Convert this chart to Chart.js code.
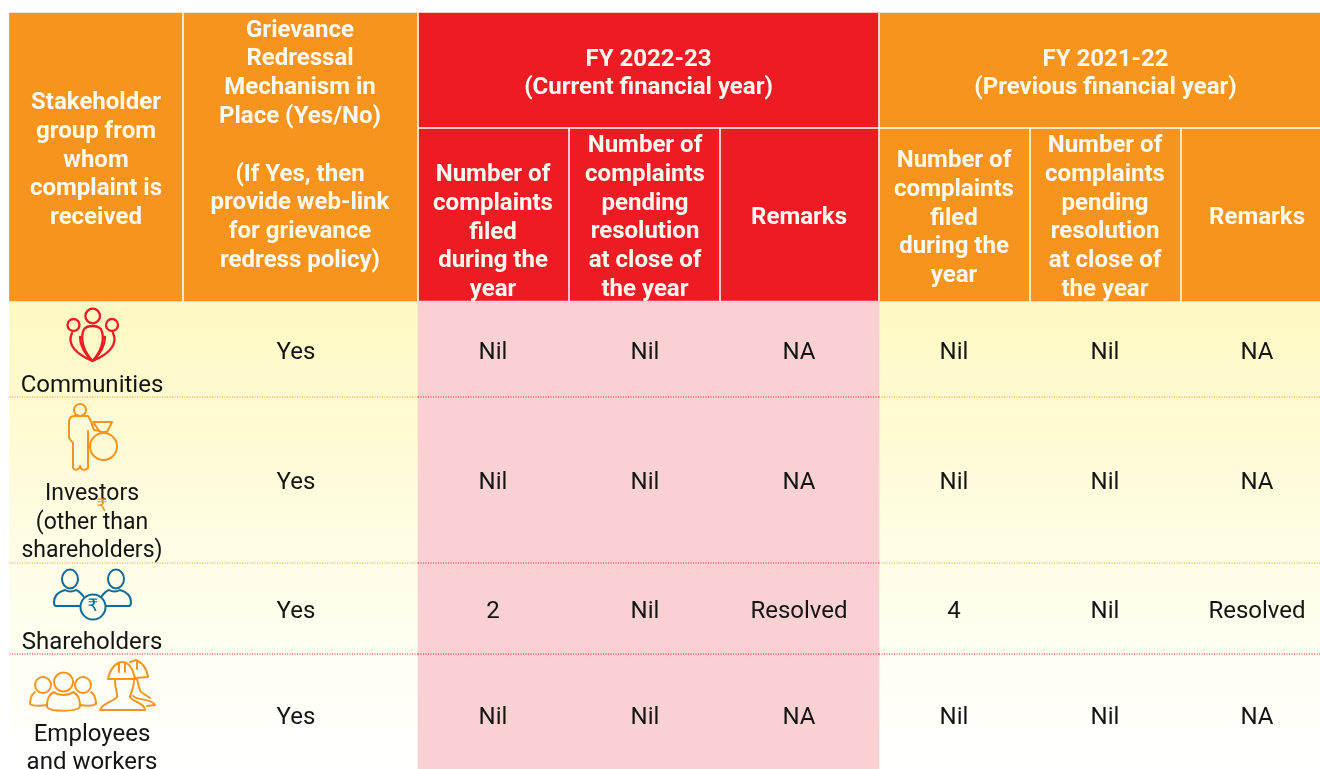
<!DOCTYPE html>
<html>
<head>
<meta charset="utf-8">
<style>
html, body { margin: 0; padding: 0; background: #fff; }
canvas { display: block; }
</style>
<script src="https://cdn.jsdelivr.net/npm/chart.js@4"></script>
</head>
<body>
<canvas id="grid" width="1320" height="769"></canvas>
<script>
// table content
var headStakeholder = ["Stakeholder", "group from", "whom", "complaint is", "received"];
var headMechanism = ["Grievance", "Redressal", "Mechanism in", "Place (Yes/No)", "", "(If Yes, then", "provide web-link", "for grievance", "redress policy)"];
var headCurrent = ["FY 2022-23", "(Current financial year)"];
var headPrevious = ["FY 2021-22", "(Previous financial year)"];
var headFiled = ["Number of", "complaints", "filed", "during the", "year"];
var headPending = ["Number of", "complaints", "pending", "resolution", "at close of", "the year"];
var headRemarks = ["Remarks"];

var stakeholders = [["Communities"], ["Investors", "(other than", "shareholders)"], ["Shareholders"], ["Employees", "and workers"]];
var mechanism = ["Yes", "Yes", "Yes", "Yes"];
var filedCurrent = ["Nil", "Nil", "2", "Nil"];
var pendingCurrent = ["Nil", "Nil", "Nil", "Nil"];
var remarksCurrent = ["NA", "NA", "Resolved", "NA"];
var filedPrevious = ["Nil", "Nil", "4", "Nil"];
var pendingPrevious = ["Nil", "Nil", "Nil", "Nil"];
var remarksPrevious = ["NA", "NA", "Resolved", "NA"];

// layout, in scale units (1 unit = 1 px)
var left = 9.5, right = 1320, top_ = 13, headMid = 128, headBottom = 301, bottom = 769;
var colLines = [183, 418, 569, 720, 879, 1030, 1181];
var colCentres = [493, 645, 799, 954, 1105, 1257];
var rowLines = [397, 563, 654];
var rowCentres = [350.5, 480.5, 609.5, 715.5];
var labelLines = [[383.5], [491.5, 520.5, 549], [640.5], [732.5, 760.5]];
var labelSizes = [24, 23, 24, 24];
var orange = "#f7941d", red = "#ed1c24", pink = "#fad1d3";
var lineH = 28.8;
var textShift = 2.5; // canvas "middle" sits a little above the visual centre of these lines

function band(x0, x1, y0, y1, colour)
{
	return {
		type: "bar",
		indexAxis: "y",
		data: [{x: [x0, x1], y: (y0 + y1) / 2}],
		barThickness: y1 - y0,
		grouped: false,
		backgroundColor: colour,
		borderWidth: 0,
		order: 10
	};
}

function rule(x0, y0, x1, y1, colour, width, dash)
{
	return {
		type: "scatter",
		data: [{x: x0, y: y0}, {x: x1, y: y1}],
		showLine: true,
		pointRadius: 0,
		borderColor: colour,
		borderWidth: width,
		borderDash: dash || [],
		order: 1
	};
}

function bodyFill(context)
{
	var chart = context.chart;
	var y = chart.scales.y;
	var top = y.getPixelForValue(headBottom);
	var end = y.getPixelForValue(bottom);
	if (!isFinite(top) || !isFinite(end))
	{
		return "#fffde6"; // scales not laid out yet
	}
	var g = chart.ctx.createLinearGradient(0, top, 0, end);
	g.addColorStop(0, "#fef8c1");
	g.addColorStop(0.55, "#fffde6");
	g.addColorStop(1, "#ffffff");
	return g;
}

function buildDatasets()
{
	let sets = [];
	sets.push(rule(418, headMid, right, headMid, "#ffffff", 1.5));
	for (let i = 0; i < colLines.length; i++)
	{
		let x = colLines[i];
		let startY = (x == 183 || x == 418 || x == 879) ? top_ : headMid;
		sets.push(rule(x, startY, x, headBottom, "#ffffff", 1.5));
	}
	let dotted = [[orange, red, orange], [orange, red, orange], [red, red, red]];
	for (let i = 0; i < rowLines.length; i++)
	{
		sets.push(rule(left, rowLines[i], 418, rowLines[i], dotted[i][0], 1.2, [1, 1.5]));
		sets.push(rule(418, rowLines[i], 879, rowLines[i], dotted[i][1], 1.2, [1, 1.5]));
		sets.push(rule(879, rowLines[i], right, rowLines[i], dotted[i][2], 1.2, [1, 1.5]));
	}
	sets.push(band(left, 418, top_, headBottom, orange));
	sets.push(band(418, 879, top_, headBottom, red));
	sets.push(band(879, right, top_, headBottom, orange));
	let pinkBand = band(418, 879, headBottom, bottom, pink);
	pinkBand.order = 5;
	sets.push(pinkBand);
	sets.push(band(left, right, headBottom, bottom, bodyFill));
	return sets;
}

function drawLines(ctx, chart, lines, xVal, firstY)
{
	let x = chart.scales.x.getPixelForValue(xVal);
	for (let i = 0; i < lines.length; i++)
	{
		ctx.fillText(lines[i], x, chart.scales.y.getPixelForValue(firstY + i * lineH + textShift));
	}
}

function drawIcons(ctx)
{
	ctx.save();
	ctx.lineJoin = "round";
	ctx.lineCap = "round";

	// communities
	ctx.strokeStyle = red;
	ctx.lineWidth = 2.3;
	ctx.stroke(new Path2D("M100 316a7.3 7.3 0 1 1-14.6 0a7.3 7.3 0 1 1 14.6 0z"));
	ctx.stroke(new Path2D("M79.5 325a6 6 0 1 1-12 0a6 6 0 1 1 12 0zM118 325a6 6 0 1 1-12 0a6 6 0 1 1 12 0z"));
	ctx.stroke(new Path2D("M84 329C79 340 85 353 92.5 361C100 353 106 340 101 329C97 325 88 325 84 329z"));
	ctx.stroke(new Path2D("M72 333C66 345 78 355 92.5 361M80 337C80 347 85 354 92.5 361M113 333C119 345 107 355 92.5 361M105 337C105 347 100 354 92.5 361"));

	// investors
	ctx.strokeStyle = orange;
	ctx.lineWidth = 2;
	ctx.stroke(new Path2D("M86 410a6 6 0 1 1-12 0a6 6 0 1 1 12 0z"));
	ctx.stroke(new Path2D("M88 416L74 416C70 416 69 419 69 423L69 437C69 440 72 441 73 443L73 468C75 471 79 470 80 466C81 470 85 471 88 468L88 431M88 416C91 419 92 426 94 430L100 431"));
	ctx.stroke(new Path2D("M93 422L112 422L107 432L100 432L93 422zM117 446.5a13.5 13.5 0 1 1-27 0a13.5 13.5 0 1 1 27 0z"));

	// shareholders
	ctx.strokeStyle = "#0f6b97";
	ctx.lineWidth = 2;
	ctx.beginPath();
	ctx.ellipse(70, 579, 8, 9.5, 0, 0, Math.PI * 2);
	ctx.moveTo(124, 579);
	ctx.ellipse(116, 579, 8, 9.5, 0, 0, Math.PI * 2);
	ctx.stroke();
	ctx.stroke(new Path2D("M80 606L56 606C54 606 54 604 54 602C54 595 58 592 65 590C68 592 73 592 76 590C79 591 81 593 84 597"));
	ctx.stroke(new Path2D("M106 606L129 606C131 606 131 604 131 602C131 595 127 592 120 590C117 592 112 592 109 590C106 591 104 593 101 597"));
	ctx.stroke(new Path2D("M105.5 607a12.5 12.5 0 1 1-25 0a12.5 12.5 0 1 1 25 0z"));

	// employees and workers
	ctx.strokeStyle = orange;
	ctx.lineWidth = 2;
	ctx.stroke(new Path2D("M73 682a9.5 9.5 0 1 1-19 0a9.5 9.5 0 1 1 19 0zM51 685a8 8 0 1 1-16 0a8 8 0 1 1 16 0zM91 685a8 8 0 1 1-16 0a8 8 0 1 1 16 0z"));
	ctx.stroke(new Path2D("M54 692C48 695 47 700 47 707C50 712 76 712 80 707C80 700 79 695 73 692C68 696 59 696 54 692z"));
	ctx.stroke(new Path2D("M35 692C31 695 30 698 30 704C33 706 40 706 47 705M91 692C95 695 96 698 96 704C93 706 86 706 80 705"));
	ctx.stroke(new Path2D("M108 679C110 669 116 662 122 662C129 662 133 669 135 679L108 679zM119 663L119 672M125 663L125 672"));
	ctx.stroke(new Path2D("M130 662L136 660C143 663 147 670 148 677L135 678M137 661L137 669"));
	ctx.stroke(new Path2D("M115 681C115 690 118 693 117 697C113 702 102 703 100 710L145 710C145 703 134 703 130 697C131 692 134 688 134 681"));
	ctx.stroke(new Path2D("M133 696C136 700 153 699 155 705L147 706M137 679C139 686 139 690 141 692L150 698"));
	ctx.restore();
}

var tablePlugin = {
	id: "tableText",
	afterDatasetsDraw: function(chart)
	{
		let ctx = chart.ctx;
		ctx.save();
		ctx.textAlign = "center";
		ctx.textBaseline = "middle";

		ctx.fillStyle = "#fffaf0";
		ctx.font = "700 24px Roboto";
		drawLines(ctx, chart, headStakeholder, 96, 100.5);
		drawLines(ctx, chart, headMechanism, 300, 28);
		drawLines(ctx, chart, headCurrent, 648.5, 57);
		drawLines(ctx, chart, headPrevious, 1105.5, 57);
		drawLines(ctx, chart, headFiled, colCentres[0], 172.5);
		drawLines(ctx, chart, headPending, colCentres[1], 143.5);
		drawLines(ctx, chart, headRemarks, colCentres[2], 215.5);
		drawLines(ctx, chart, headFiled, colCentres[3], 158.5);
		drawLines(ctx, chart, headPending, colCentres[4], 143.5);
		drawLines(ctx, chart, headRemarks, colCentres[5], 215.5);

		ctx.fillStyle = "#141414";
		let columns = [filedCurrent, pendingCurrent, remarksCurrent, filedPrevious, pendingPrevious, remarksPrevious];
		for (let r = 0; r < stakeholders.length; r++)
		{
			ctx.font = "400 " + labelSizes[r] + "px Roboto";
			for (let l = 0; l < stakeholders[r].length; l++)
			{
				drawLines(ctx, chart, [stakeholders[r][l]], 92, labelLines[r][l]);
			}
			ctx.font = "400 24px Roboto";
			drawLines(ctx, chart, [mechanism[r]], 296, rowCentres[r]);
			for (let c = 0; c < columns.length; c++)
			{
				drawLines(ctx, chart, [columns[c][r]], colCentres[c], rowCentres[r]);
			}
		}

		// rupee signs belonging to the icons
		ctx.font = "400 17px 'DejaVu Sans'";
		ctx.fillStyle = orange;
		ctx.fillText("\u20B9", 102, 507);
		ctx.fillStyle = "#0f6b97";
		ctx.fillText("\u20B9", 93, 607);
		ctx.restore();

		drawIcons(ctx);
	}
};

var grid = new Chart("grid",
{
	type: "bar",
	data: { datasets: buildDatasets() },
	options:
	{
		responsive: false,
		animation: false,
		layout: { padding: 0 },
		plugins:
		{
			legend: { display: false },
			tooltip: { enabled: false }
		},
		scales:
		{
			x: { type: "linear", display: false, offset: false, min: 0, max: 1320 },
			y: { type: "linear", display: false, offset: false, min: 0, max: 769, reverse: true }
		}
	},
	plugins: [tablePlugin]
});
</script>
</body>
</html>
